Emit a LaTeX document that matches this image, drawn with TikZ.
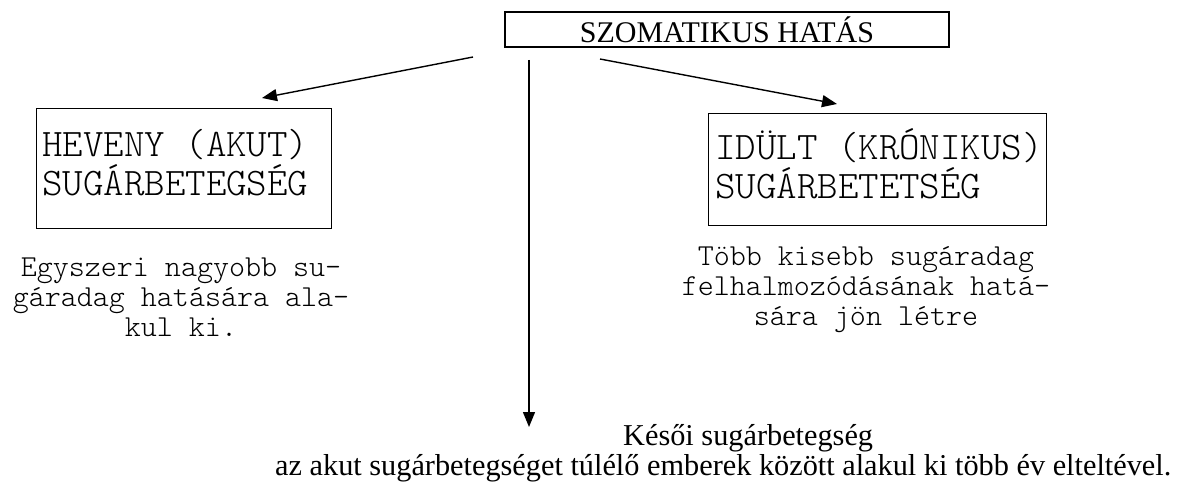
\documentclass[tikz,border=0pt]{standalone}
\usepackage{fontspec}
\setmainfont{Liberation Serif}
\setmonofont{Latin Modern Mono Light}
\usetikzlibrary{arrows.meta}
\begin{document}
\begin{tikzpicture}[x=1pt,y=-1pt,
  frame/.style={draw, inner sep=0pt},
  conn/.style={line width=1.4pt, -{Triangle[length=15pt,width=12pt]}},
  boxtext/.style={font=\fontsize{39}{39}\selectfont\ttfamily, align=left, inner sep=0pt, anchor=base west},
  note/.style={font=\fontsize{30.5}{30}\selectfont\ttfamily, align=center, inner sep=0pt, anchor=base},
  serifline/.style={font=\fontsize{30.3}{33}\selectfont, inner sep=0pt, anchor=base west}]
\useasboundingbox (0,0) rectangle (1180,486);

% title box
\node[frame, line width=1.6pt, minimum width=444pt, minimum height=35pt,
      font=\fontsize{30}{33}\selectfont] (soma) at (727,29.5) {SZOMATIKUS HATÁS};

% acute radiation sickness (anchor sits on the last line's baseline)
\node[frame, line width=0.8pt, minimum width=295pt, minimum height=120pt] (acute) at (183.5,168) {};
\node[boxtext] (acutetext) at (42,196) {HEVENY (AKUT)\\SUGÁRBETEGSÉG};
\node[note] (acutenote) at (181,336) {Egyszeri nagyobb su-\\gáradag hatására ala-\\kul ki.};

% chronic radiation sickness
\node[frame, line width=0.8pt, minimum width=338pt, minimum height=112pt] (chronic) at (877,169) {};
\node[boxtext] (chronictext) at (715,199) {IDÜLT (KRÓNIKUS)\\SUGÁRBETETSÉG};
\node[note] (chronicnote) at (866,325) {Több kisebb sugáradag\\felhalmozódásának hatá-\\sára jön létre};

% late effects
\node[serifline] (late) at (623,445) {Késői sugárbetegség};
\node[serifline] (latenote) at (275,475) {az akut sugárbetegséget túlélő emberek között alakul ki több év elteltével.};

% connectors
\coordinate (lstart) at (473,57);
\coordinate (ltip) at (262,98);
\coordinate (vstart) at (529,60);
\coordinate (vtip) at (529,427);
\coordinate (rstart) at (600,59);
\coordinate (rtip) at (837,104);
\draw[conn] (lstart) -- (ltip);
\draw[conn] (vstart) -- (vtip);
\draw[conn] (rstart) -- (rtip);
\end{tikzpicture}
\end{document}
